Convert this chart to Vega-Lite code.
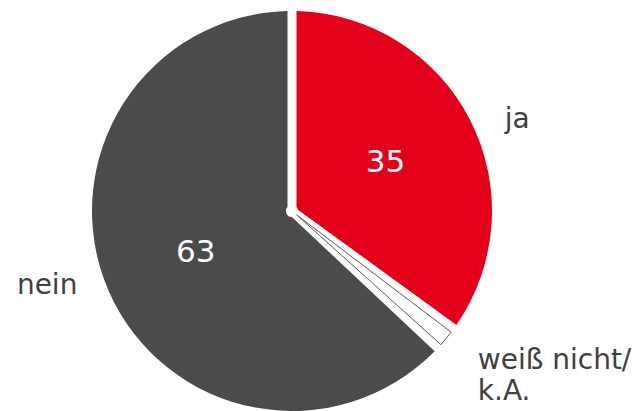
{
  "$schema": "https://vega.github.io/schema/vega-lite/v6.json",
  "width": 584,
  "height": 400,
  "autosize": "none",
  "padding": {"left": 0, "right": 58, "top": 11, "bottom": 0},
  "background": "white",
  "view": {"stroke": null},
  "config": {"text": {"font": "DejaVu Sans"}},
  "data": {"values": [
    {"antwort": "ja", "anteil": 35, "nr": 1},
    {"antwort": "weiß nicht/k.A.", "anteil": 2, "nr": 2},
    {"antwort": "nein", "anteil": 63, "nr": 3}
  ]},
  "encoding": {
    "theta": {"field": "anteil", "type": "quantitative", "stack": true},
    "order": {"field": "nr"}
  },
  "layer": [
    {
      "mark": {"type": "arc", "outerRadius": 200, "innerRadius": 6, "padAngle": 0.045, "stroke": "#5a5a5a"},
      "encoding": {
        "color": {
          "field": "antwort", "type": "nominal", "legend": null,
          "scale": {"domain": ["ja", "weiß nicht/k.A.", "nein"], "range": ["#e2001a", "#ffffff", "#4b4b4b"]}
        },
        "strokeWidth": {"condition": {"test": "datum.nr === 2", "value": 1}, "value": 0}
      }
    },
    {
      "mark": {"type": "text", "radius": 105, "fontSize": 31, "fill": "white"},
      "encoding": {
        "text": {"condition": {"test": "datum.anteil > 10", "field": "anteil"}, "value": ""}
      }
    },
    {
      "mark": {"type": "text", "radius": 245, "fontSize": 28, "fill": "#404040", "dx": 7, "dy": 20},
      "encoding": {
        "text": {"condition": {"test": "datum.antwort === 'ja'", "field": "antwort"}, "value": ""}
      }
    },
    {
      "mark": {"type": "text", "radius": 245, "fontSize": 28, "fill": "#404040", "dx": -20, "dy": -22},
      "encoding": {
        "text": {"condition": {"test": "datum.antwort === 'nein'", "field": "antwort"}, "value": ""}
      }
    },
    {
      "mark": {"type": "text", "radius": 245, "fontSize": 28, "fill": "#404040", "align": "left", "baseline": "alphabetic", "lineBreak": "\n", "lineHeight": 31, "dx": -3, "dy": 2},
      "encoding": {
        "text": {"condition": {"test": "datum.nr === 2", "value": "weiß nicht/\nk.A."}, "value": ""}
      }
    }
  ]
}
